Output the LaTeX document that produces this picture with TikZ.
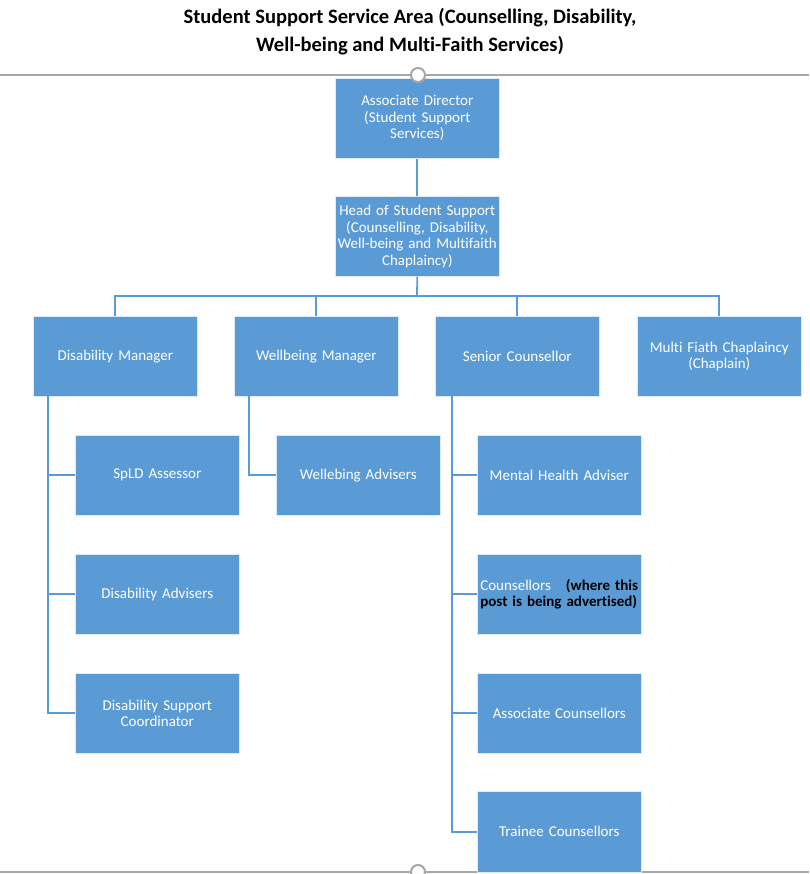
\documentclass[tikz,border=0pt]{standalone}
\usepackage{fontspec}
\setmainfont{Carlito}[Ligatures=NoCommon]
\definecolor{boxblue}{HTML}{5B9BD5}
\definecolor{linegray}{HTML}{A6A6A6}
\begin{document}
\begin{tikzpicture}[x=1pt,y=-1pt,
  box/.style={draw=white!80!boxblue,line width=0.6pt,fill=boxblue,text=white,minimum width=164pt,minimum height=80pt,inner sep=0pt,align=center,font=\fontsize{15}{16.5}\selectfont,anchor=north west,text width=160pt},
  conn/.style={draw=boxblue,line width=1.8pt},
  rule/.style={draw=linegray,line width=2pt}]
\useasboundingbox (0,0) rectangle (809,874);
% title
\node[font=\bfseries\fontsize{20.5}{28}\selectfont,align=center] (title) at (410,32) {Student Support Service Area (Counselling, Disability,\\Well-being and Multi-Faith Services)};
% rules
\coordinate (rl) at (0,75); \coordinate (rr) at (809,75);
\coordinate (bl) at (0,872); \coordinate (br) at (809,872);
\draw[rule] (rl) -- (rr);
\draw[rule] (bl) -- (br);
% boxes
\node[box] (ad) at (335,78) {Associate Director\\(Student Support\\Services)};
\node[box] (hs) at (335,196) {Head of Student Support\\(Counselling, Disability,\\Well-being and Multifaith\\Chaplaincy)};
\node[box] (dm) at (33,316) {Disability Manager};
\node[box] (wm) at (234,316) {Wellbeing Manager};
\node[box] (sc) at (435,316) {Senior Counsellor};
\node[box] (mf) at (637,316) {Multi Fiath Chaplaincy\\(Chaplain)};
\node[box] (sp) at (75,435) {SpLD Assessor};
\node[box] (da) at (75,554) {Disability Advisers};
\node[box] (ds) at (75,673) {Disability Support\\Coordinator};
\node[box] (wa) at (276,435) {Wellebing Advisers};
\node[box] (mh) at (477,435) {Mental Health Adviser};
\node[box,align=left,text width=158pt] (co) at (477,554) {Counsellors \ \ {\color{black}\bfseries(where this}\\{\color{black}\bfseries post is being advertised)}};
\node[box] (ac) at (477,673) {Associate Counsellors};
\node[box,minimum height=81pt] (tc) at (477,791) {Trainee Counsellors};
% circles
\node[circle,draw=linegray,line width=2pt,fill=white,minimum size=14pt,inner sep=0pt] (c1) at (418,75) {};
\node[circle,draw=linegray,line width=2pt,fill=white,minimum size=14pt,inner sep=0pt] (c2) at (418,872) {};
% connectors
\draw[conn] (ad.south) -- (hs.north);
\coordinate (bus) at (417,296);
\draw[conn] (hs.south) -- (bus);
\draw[conn] (dm.north) |- (bus) -| (mf.north);
\draw[conn] (wm.north) -- (wm.north |- bus);
\draw[conn] (sc.north) -- (sc.north |- bus);
\coordinate (dv) at (48,396);
\coordinate (wv) at (249,396);
\coordinate (sv) at (452,396);
\draw[conn] (dv) |- (ds.west);
\draw[conn] (dv |- sp.west) -- (sp.west);
\draw[conn] (dv |- da.west) -- (da.west);
\draw[conn] (wv) |- (wa.west);
\draw[conn] (sv) |- (tc.west);
\draw[conn] (sv |- mh.west) -- (mh.west);
\draw[conn] (sv |- co.west) -- (co.west);
\draw[conn] (sv |- ac.west) -- (ac.west);
\end{tikzpicture}
\end{document}
